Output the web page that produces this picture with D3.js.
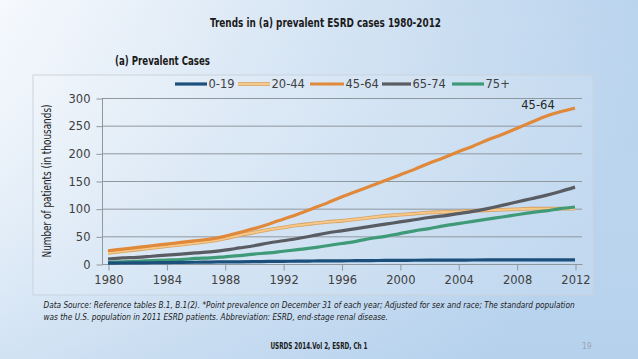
<!DOCTYPE html>
<html><head><meta charset="utf-8">
<script src="https://cdn.jsdelivr.net/npm/d3@7/dist/d3.min.js"></script>
<style>html,body{margin:0;padding:0;overflow:hidden;}svg{display:block;}</style>
</head><body>
<svg id="c" width="638" height="359"></svg>
<script>
const years = d3.range(1980, 2013);
const seriesNames = ["0-19", "20-44", "45-64", "65-74", "75+"];
const colors = ["#1b4f7c", "#f6c98a", "#e0893a", "#595c62", "#3f9a78"];
const v0_19 = [1.5,1.8,2.0,2.3,2.6,2.9,3.2,3.5,3.8,4.0,4.3,4.6,4.9,5.1,5.4,5.6,5.8,6.0,6.2,6.4,6.6,6.8,6.9,7.0,7.1,7.2,7.3,7.4,7.5,7.5,7.5,7.5,7.4];
const v20_44 = [20,23,26,29,32,35,38,41,46,52,57,62,66,70,73,76,78,81,84,87,89,91,93,94,95,96,97,98,99,100,100,100,100];
const v45_64 = [24,27,30,33,36,39,42,45,50,57,64,72,81,90,100,110,121,131,141,151,161,171,182,192,203,213,224,234,245,256,267,275,282];
const v65_74 = [9,11,12,14,16,18,20,22,25,29,33,38,42,46,51,56,60,64,68,72,76,80,84,87,91,95,100,106,112,118,124,131,139];
const v75p = [3,4,5,6,7,8,10,11,13,15,18,20,23,26,29,33,37,41,46,50,55,60,64,69,73,77,81,85,89,93,96,100,103];
const seriesValues = [v0_19, v20_44, v45_64, v65_74, v75p];
const yTicks = [0,50,100,150,200,250,300];
const xTicks = [1980,1984,1988,1992,1996,2000,2004,2008,2012];

const svg = d3.select("#c");
const defs = svg.append("defs");
const g1 = defs.append("linearGradient").attr("id","bg").attr("x1","0").attr("y1","0").attr("x2","1").attr("y2","0.35");
g1.append("stop").attr("offset","0").attr("stop-color","#f6f9fd");
g1.append("stop").attr("offset","0.45").attr("stop-color","#d6e5f4");
g1.append("stop").attr("offset","1").attr("stop-color","#b4d0ec");
svg.append("rect").attr("width",638).attr("height",359).attr("fill","url(#bg)");
const g2 = defs.append("linearGradient").attr("id","bg2").attr("x1","0").attr("y1","0").attr("x2","0").attr("y2","1");
g2.append("stop").attr("offset","0").attr("stop-color","#ffffff").attr("stop-opacity",0);
g2.append("stop").attr("offset","1").attr("stop-color","#b8d3ee").attr("stop-opacity",0.35);
svg.append("rect").attr("width",638).attr("height",359).attr("fill","url(#bg2)");

// panel
svg.append("rect").attr("x",33).attr("y",75).attr("width",560).attr("height",220)
  .attr("fill","#ffffff").attr("fill-opacity",0.12).attr("stroke","#c9d3dd").attr("stroke-width",1);

const x = d3.scaleLinear().domain([1980,2012]).range([108,575]);
const y = d3.scaleLinear().domain([0,300]).range([264,98]);

// gridlines
svg.append("g").selectAll("line").data(yTicks.filter(d=>d>0)).join("line")
  .attr("x1",102).attr("x2",582).attr("y1",d=>y(d)+0.5).attr("y2",d=>y(d)+0.5)
  .attr("stroke","#8f979f").attr("stroke-width",1);

// y axis
const yAxis = svg.append("g").attr("transform","translate(102.5,0.5)")
  .call(d3.axisLeft(y).tickValues(yTicks).tickSize(6).tickPadding(6));
yAxis.select(".domain").attr("stroke","#8f979f").attr("d","M0,"+y(300)+"V"+y(0));
yAxis.selectAll(".tick line").attr("stroke","#8f979f");
yAxis.selectAll("text").attr("fill","#404040").style("font-family","DejaVu Sans").style("font-size","11.5px");

// x axis
const xAxis = svg.append("g").attr("transform","translate(0.5,"+(y(0)+0.5)+")")
  .call(d3.axisBottom(x).tickValues(xTicks).tickFormat(d3.format("d")).tickSize(6).tickPadding(5));
xAxis.select(".domain").attr("stroke","#8f979f").attr("d","M101.5,0H582");
xAxis.selectAll(".tick line").attr("stroke","#8f979f");
xAxis.selectAll("text").attr("fill","#404040").style("font-family","DejaVu Sans").style("font-size","11.5px");

// lines
const line = d3.line().x((d,i)=>x(years[i])).y(d=>y(d)).curve(d3.curveMonotoneX);
const order = [1,4,3,2,0];
order.forEach(k=>{
  if(k===1){
    svg.append("path").attr("d",line(seriesValues[k])).attr("fill","none").attr("stroke","#d7a060").attr("stroke-width",3.6);
    svg.append("path").attr("d",line(seriesValues[k])).attr("fill","none").attr("stroke",colors[k]).attr("stroke-width",2);
  } else {
    svg.append("path").attr("d",line(seriesValues[k])).attr("fill","none").attr("stroke",colors[k]).attr("stroke-width",3.2).attr("stroke-linejoin","round");
  }
});

// legend
const legX = [175,238,310,382,452];
const legW = [32,32,34,29,32];
seriesNames.forEach((n,i)=>{
  if(i===1){
    svg.append("line").attr("x1",legX[i]).attr("x2",legX[i]+legW[i]).attr("y1",84).attr("y2",84).attr("stroke","#d7a060").attr("stroke-width",3.6);
  }
  svg.append("line").attr("x1",legX[i]).attr("x2",legX[i]+legW[i]).attr("y1",84).attr("y2",84).attr("stroke",colors[i]).attr("stroke-width",i===1?2:3.2);
  svg.append("text").attr("x",legX[i]+legW[i]+1.5).attr("y",88).text(n)
    .attr("fill","#404040").style("font-family","DejaVu Sans").style("font-size","11.5px");
});

// annotation
svg.append("text").attr("x",538).attr("y",109).attr("text-anchor","middle").text("45-64")
  .attr("fill","#262626").style("font-family","DejaVu Sans").style("font-size","11.5px");

function fit(sel, target){
  sel.style("font-size","10px");
  const w = sel.node().getComputedTextLength();
  sel.style("font-size", (10*target/w).toFixed(2)+"px");
  return sel;
}

const cond = "'Liberation Sans Narrow','DejaVu Sans Condensed',sans-serif";
svg.append("text").attr("x",210).attr("y",27).text("Trends in (a) prevalent ESRD cases 1980-2012")
  .attr("textLength",231).attr("lengthAdjust","spacingAndGlyphs")
  .attr("fill","#1a1a1a").style("font-family",cond).style("font-weight","bold").style("font-size","12.5px");
svg.append("text").attr("x",115).attr("y",65).text("(a)  Prevalent Cases")
  .attr("textLength",95).attr("lengthAdjust","spacingAndGlyphs")
  .attr("fill","#1a1a1a").style("font-family",cond).style("font-weight","bold").style("font-size","12.5px");

svg.append("text").attr("transform","translate(51,181) rotate(-90)").attr("text-anchor","middle")
  .text("Number of patients (in thousands)").attr("textLength",153).attr("lengthAdjust","spacingAndGlyphs")
  .attr("fill","#1a1a1a").style("font-family",cond).style("font-size","12.5px");

fit(svg.append("text").attr("x",43.5).attr("y",308).text("Data Source: Reference tables B.1, B.1(2). *Point prevalence on December 31 of each year; Adjusted for sex and race; The standard population")
  .attr("fill","#1a1a1a").style("font-family",cond).style("font-style","italic"), 532);
fit(svg.append("text").attr("x",43.5).attr("y",320).text("was the U.S. population in 2011 ESRD patients. Abbreviation: ESRD, end-stage renal disease.")
  .attr("fill","#1a1a1a").style("font-family",cond).style("font-style","italic"), 345);
svg.append("text").attr("x",270.5).attr("y",349).text("USRDS 2014.Vol 2, ESRD, Ch 1")
  .attr("textLength",97).attr("lengthAdjust","spacingAndGlyphs")
  .attr("fill","#1a1a1a").style("font-family",cond).style("font-weight","bold").style("font-size","8.5px");
svg.append("text").attr("x",582).attr("y",349).text("19")
  .attr("fill","#9aa6b2").style("font-family",cond).style("font-size","8.5px");
</script>
</body></html>
